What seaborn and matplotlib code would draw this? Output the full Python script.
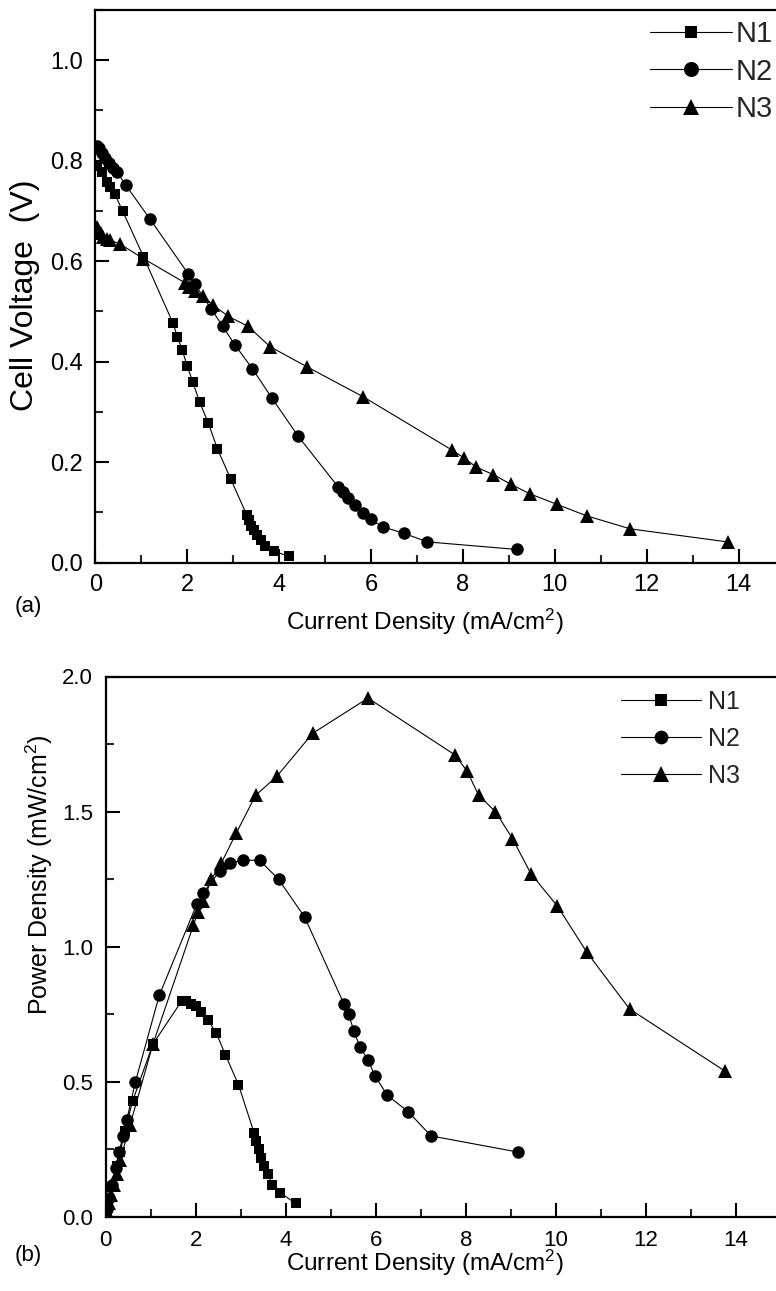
import numpy as np
import pandas as pd
import matplotlib
matplotlib.use("Agg")
import matplotlib.pyplot as plt
from matplotlib.ticker import MultipleLocator, FormatStrFormatter
import seaborn as sns

# ---------------- data ----------------
n1_current = [0.05, 0.14, 0.25, 0.32, 0.43, 0.60, 1.05, 1.69, 1.79, 1.89, 2.00, 2.12, 2.27,
              2.46, 2.66, 2.95, 3.30, 3.35, 3.40, 3.45, 3.52, 3.60, 3.70, 3.88, 4.22]
n1_voltage = [0.790, 0.777, 0.757, 0.747, 0.733, 0.699, 0.609, 0.477, 0.449, 0.424, 0.392, 0.360,
              0.320, 0.278, 0.226, 0.166, 0.094, 0.084, 0.073, 0.064, 0.054, 0.044, 0.033, 0.023, 0.012]
n1_power = [0.04, 0.11, 0.19, 0.24, 0.32, 0.43, 0.64, 0.80, 0.80, 0.79, 0.78, 0.76, 0.73,
            0.68, 0.60, 0.49, 0.31, 0.28, 0.25, 0.22, 0.19, 0.16, 0.12, 0.09, 0.05]

n2_current = [0.03, 0.08, 0.15, 0.22, 0.30, 0.38, 0.47, 0.66, 1.19, 2.03, 2.17, 2.53, 2.77, 3.04,
              3.42, 3.84, 4.42, 5.29, 5.40, 5.51, 5.65, 5.83, 5.99, 6.26, 6.72, 7.23, 9.17]
n2_voltage = [0.830, 0.825, 0.815, 0.805, 0.795, 0.785, 0.778, 0.752, 0.684, 0.574, 0.554, 0.504,
              0.471, 0.433, 0.386, 0.328, 0.251, 0.150, 0.140, 0.128, 0.115, 0.099, 0.086, 0.071,
              0.058, 0.041, 0.026]
n2_power = [0.03, 0.07, 0.12, 0.18, 0.24, 0.30, 0.36, 0.50, 0.82, 1.16, 1.20, 1.28, 1.31, 1.32,
            1.32, 1.25, 1.11, 0.79, 0.75, 0.69, 0.63, 0.58, 0.52, 0.45, 0.39, 0.30, 0.24]

n3_current = [0.03, 0.07, 0.12, 0.18, 0.25, 0.32, 0.54, 1.05, 1.95, 2.05, 2.17, 2.35, 2.57, 2.90,
              3.33, 3.80, 4.60, 5.83, 7.76, 8.03, 8.29, 8.66, 9.04, 9.45, 10.04, 10.69, 11.64, 13.76]
n3_voltage = [0.668, 0.664, 0.657, 0.649, 0.645, 0.642, 0.634, 0.605, 0.557, 0.548, 0.540, 0.530,
              0.512, 0.490, 0.470, 0.430, 0.390, 0.330, 0.224, 0.208, 0.190, 0.175, 0.156, 0.137,
              0.116, 0.093, 0.067, 0.041]
n3_power = [0.02, 0.05, 0.08, 0.12, 0.16, 0.21, 0.34, 0.64, 1.08, 1.13, 1.17, 1.25, 1.31, 1.42,
            1.56, 1.63, 1.79, 1.92, 1.71, 1.65, 1.56, 1.50, 1.40, 1.27, 1.15, 0.98, 0.77, 0.54]

series_names = ["N1", "N2", "N3"]
x_ticks = [0, 2, 4, 6, 8, 10, 12, 14]
top_y_ticks = [0.0, 0.2, 0.4, 0.6, 0.8, 1.0]
bottom_y_ticks = [0.0, 0.5, 1.0, 1.5, 2.0]

# ---------------- style ----------------
sns.set_theme(style="white")
plt.rcParams["font.family"] = ["Liberation Sans", "DejaVu Sans"]
plt.rcParams["mathtext.fontset"] = "custom"
plt.rcParams["mathtext.rm"] = "Liberation Sans"
plt.rcParams["mathtext.it"] = "Liberation Sans:italic"
plt.rcParams["mathtext.default"] = "regular"

W, H = 776, 1291
fig = plt.figure(figsize=(W / 100, H / 100), dpi=100)

ax_top = fig.add_axes([95.2 / W, (H - 562.5) / H, 15 * 45.96 / W, 552.5 / H])
ax_bot = fig.add_axes([105.7 / W, (H - 1217) / H, 15 * 45.0 / W, 540.5 / H])

markers = {"N1": ("s", 7.5), "N2": ("o", 9.0), "N3": ("^", 10.0)}
top_data = {"N1": (n1_current, n1_voltage), "N2": (n2_current, n2_voltage), "N3": (n3_current, n3_voltage)}
bot_data = {"N1": (n1_current, n1_power), "N2": (n2_current, n2_power), "N3": (n3_current, n3_power)}

for ax, data in ((ax_top, top_data), (ax_bot, bot_data)):
    for name in series_names:
        xs, ys = data[name]
        df = pd.DataFrame({"x": xs, "y": ys})
        m, ms = markers[name]
        sns.lineplot(data=df, x="x", y="y", ax=ax, color="black", marker=m, markersize=ms,
                     markeredgewidth=0, linewidth=0.8, sort=False, estimator=None, label=name)

def style_axes(ax, ylim, yticks, yminor, tick_size, xpad):
    ax.set_xlim(0, 15)
    ax.set_ylim(*ylim)
    ax.set_xticks(x_ticks)
    ax.set_yticks(yticks)
    ax.xaxis.set_minor_locator(MultipleLocator(1))
    ax.yaxis.set_minor_locator(MultipleLocator(yminor))
    ax.yaxis.set_major_formatter(FormatStrFormatter("%.1f"))
    ax.tick_params(which="major", direction="in", length=10, width=1.5, labelsize=tick_size,
                   colors="black", bottom=True, left=True, top=False, right=False)
    ax.tick_params(which="minor", direction="in", length=6, width=1.5,
                   bottom=True, left=True, top=False, right=False)
    ax.tick_params(axis="y", pad=9)
    ax.tick_params(axis="x", pad=xpad)
    for s in ax.spines.values():
        s.set_linewidth(1.6)
        s.set_color("black")
    ax.grid(False)

style_axes(ax_top, (0, 1.1), top_y_ticks, 0.1, 17, 8)
style_axes(ax_bot, (0, 2.0), bottom_y_ticks, 0.25, 16, 9)

ax_top.set_xlabel("Current Density (mA/cm$^2$)", fontsize=17.5, color="black")
ax_top.xaxis.set_label_coords((425 - 95.2) / (15 * 45.96), (562.5 - 607) / 552.5)
ax_top.set_ylabel("Cell Voltage  (V)", fontsize=23, color="black")
ax_top.yaxis.set_label_coords((40 - 95.2) / (15 * 45.96), (562.5 - 295) / 552.5)

ax_bot.set_xlabel("Current Density (mA/cm$^2$)", fontsize=17.5, color="black")
ax_bot.xaxis.set_label_coords((425 - 105.7) / 675, (1217 - 1248) / 540.5)
ax_bot.set_ylabel("Power Density (mW/cm$^2$)", fontsize=18, color="black")
ax_bot.yaxis.set_label_coords((55 - 105.7) / 675, (1217 - 875) / 540.5)

# legends
ax_top.legend(loc="upper left", bbox_to_anchor=(650 / W, 1 - 20 / H), bbox_transform=fig.transFigure,
              frameon=False, fontsize=21, handlelength=2.8, handletextpad=0.15,
              labelspacing=0.33, borderpad=0, borderaxespad=0, markerscale=1.2)
ax_bot.legend(loc="upper left", bbox_to_anchor=(621 / W, 1 - 690 / H), bbox_transform=fig.transFigure,
              frameon=False, fontsize=18, handlelength=3.2, handletextpad=0.3,
              labelspacing=0.52, borderpad=0, borderaxespad=0, markerscale=1.1)

fig.text(15 / W, 1 - 606 / H, "(a)", fontsize=16, ha="left", va="center", color="black")
fig.text(15 / W, 1 - 1256 / H, "(b)", fontsize=16, ha="left", va="center", color="black")

fig.savefig("out.png", dpi=100)
